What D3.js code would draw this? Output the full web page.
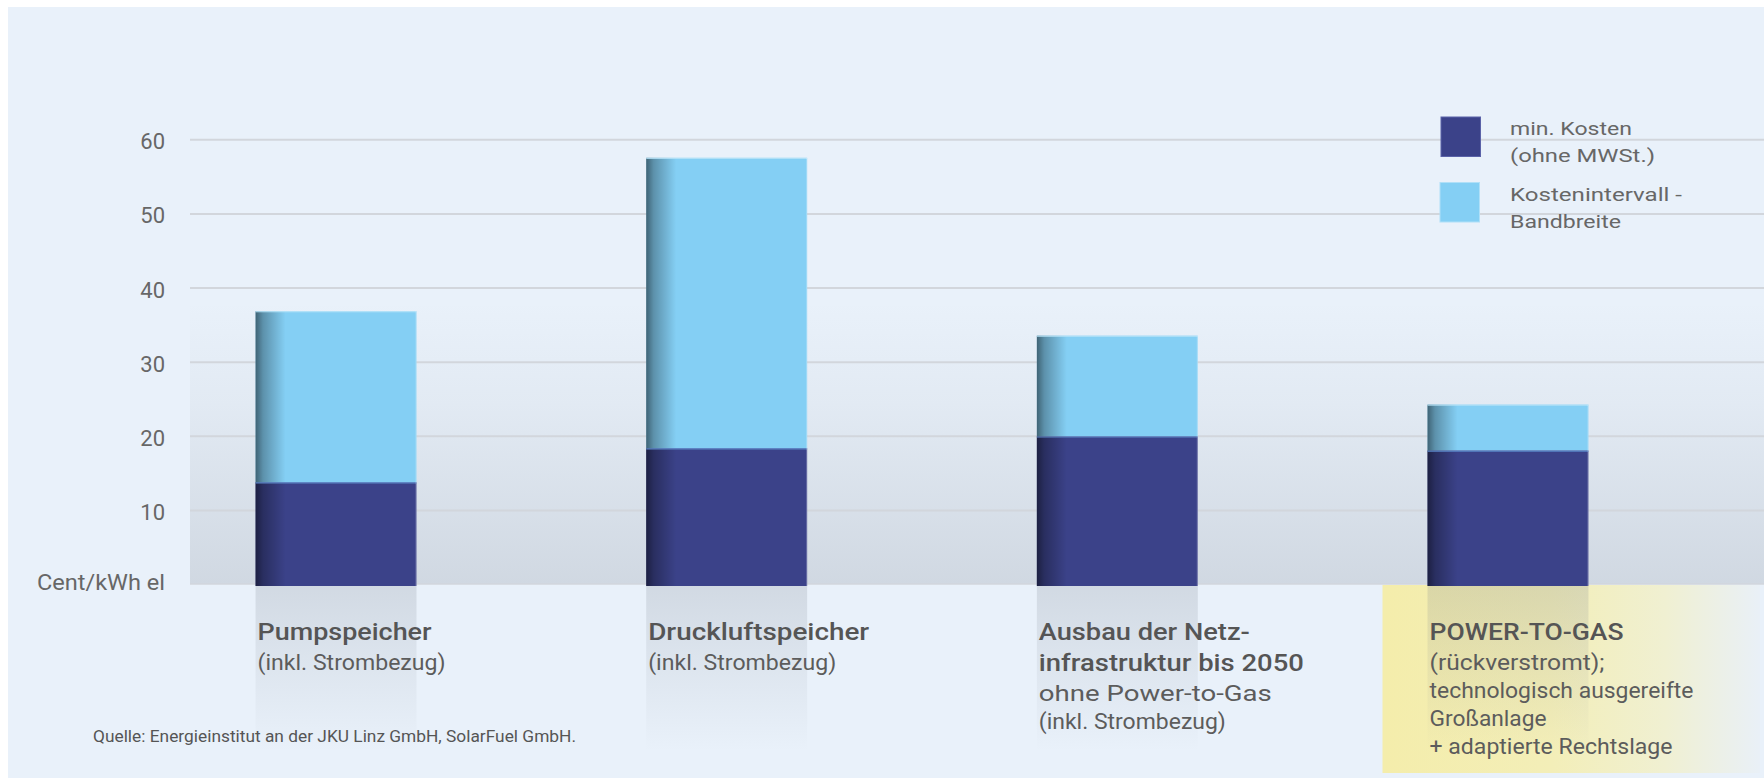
<!DOCTYPE html>
<html>
<head>
<meta charset="utf-8">
<script src="https://cdn.jsdelivr.net/npm/d3@7"></script>
<style>
  html, body { margin: 0; padding: 0; background: #ffffff; }
  svg { display: block; }
  text { font-family: Roboto, "Open Sans", sans-serif; }
</style>
</head>
<body>
<div id="chart"></div>
<script>
// ---------- data ----------
const categories = ["Pumpspeicher", "Druckluftspeicher", "Ausbau der Netzinfrastruktur bis 2050", "POWER-TO-GAS"];
const minCost = [13.7, 18.3, 19.9, 18.0];   // min. Kosten (ohne MWSt.)
const maxCost = [36.8, 57.5, 33.5, 24.2];   // upper end of Kostenintervall
const yTicks = [10, 20, 30, 40, 50, 60];
const yUnit = "Cent/kWh el";
const labelBold = [["Pumpspeicher"], ["Druckluftspeicher"], ["Ausbau der Netz-", "infrastruktur bis 2050"], ["POWER-TO-GAS"]];
const labelRegular = [["(inkl. Strombezug)"], ["(inkl. Strombezug)"], ["ohne Power-to-Gas", "(inkl. Strombezug)"], ["(rückverstromt);", "technologisch ausgereifte", "Großanlage", "+ adaptierte Rechtslage"]];
const legendItems = [["min. Kosten", "(ohne MWSt.)"], ["Kostenintervall -", "Bandbreite"]];
const sourceText = "Quelle: Energieinstitut an der JKU Linz GmbH, SolarFuel GmbH.";

// measured text widths (px) to mimic the DIN face
const boldWidths = [[174], [221], [211, 265], [194]];
const regWidths = [[188], [188], [233, 187], [175, 264, 117, 243]];
const legendWidths = [[122, 145], [172, 111]];

// ---------- layout ----------
const W = 1764, H = 781;
const plotLeft = 190, plotRight = 1764;
const colDark = "#3b4289", colLight = "#84cff4";
const textCol = "#5c5c5c";

const svg = d3.select("#chart").append("svg").attr("width", W).attr("height", H);
const defs = svg.append("defs");

const x = d3.scaleBand().domain(categories).range([140.7, 1703.3]).paddingInner(0.588).paddingOuter(0.294);
const y = d3.scaleLinear().domain([0, 60]).range([584, 139.3]);

function linGrad(id, x1, y1, x2, y2, stops) {
  const g = defs.append("linearGradient").attr("id", id)
    .attr("x1", x1).attr("y1", y1).attr("x2", x2).attr("y2", y2);
  stops.forEach(s => g.append("stop").attr("offset", s[0]).attr("stop-color", s[1]).attr("stop-opacity", s[2]));
}
linGrad("plotShade", 0, 0, 0, 1, [[0, "#78808c", 0], [0.35, "#78808c", 0.06], [1, "#78808c", 0.22]]);
linGrad("reflect", 0, 0, 0, 1, [[0, "#78808c", 0.21], [0.55, "#78808c", 0.09], [1, "#78808c", 0]]);
linGrad("edge", 0, 0, 1, 0, [[0, "#000", 0.52], [0.25, "#000", 0.3], [1, "#000", 0]]);
linGrad("yellow", 0, 0, 1, 0, [[0, "#f4edab", 1], [0.45, "#f3eeb8", 1], [0.75, "#f0f0d2", 1], [1, "#e9f0f7", 1]]);

// panel
svg.append("rect").attr("x", 8).attr("y", 7).attr("width", W - 8).attr("height", H - 10).attr("fill", "#e9f1fa");

// plot area shading
svg.append("rect").attr("x", plotLeft).attr("y", y(38)).attr("width", plotRight - plotLeft)
  .attr("height", y(0) - y(38)).attr("fill", "url(#plotShade)");

// yellow highlight box behind the POWER-TO-GAS label
const bx = x(categories[3]);
svg.append("rect").attr("x", bx - 45).attr("y", y(0) + 1).attr("width", W - 4 - (bx - 45)).attr("height", 188)
  .attr("fill", "url(#yellow)");

// reflections below bars
svg.append("g").selectAll("rect").data(categories).join("rect")
  .attr("x", d => x(d)).attr("y", y(0) + 2).attr("width", x.bandwidth()).attr("height", 165)
  .attr("fill", "url(#reflect)");

// grid + y axis
const axis = d3.axisLeft(y).tickValues(yTicks).tickSize(-(plotRight - plotLeft)).tickPadding(25);
const gAxis = svg.append("g").attr("transform", `translate(${plotLeft},0)`).call(axis);
gAxis.select(".domain").remove();
gAxis.selectAll(".tick line").attr("stroke", "#d2d6dc").attr("stroke-width", 2);
gAxis.selectAll(".tick text").attr("fill", "#676767").attr("font-size", 22).attr("dy", "0.43em")
  .attr("font-family", "Roboto, sans-serif");
svg.append("line").attr("x1", plotLeft).attr("x2", plotRight).attr("y1", y(0)).attr("y2", y(0))
  .attr("stroke", "#d2d6dc").attr("stroke-width", 1.5);

svg.append("text").attr("x", plotLeft - 25).attr("y", y(0) + 6).attr("text-anchor", "end")
  .attr("font-size", 21.5).attr("fill", "#676767").attr("textLength", 128).attr("lengthAdjust", "spacingAndGlyphs")
  .text(yUnit);

// bars
const gBars = svg.append("g");
categories.forEach((c, i) => {
  const bx0 = x(c), bw = x.bandwidth();
  gBars.append("rect").attr("x", bx0).attr("y", y(maxCost[i])).attr("width", bw)
    .attr("height", y(minCost[i]) - y(maxCost[i])).attr("fill", colLight);
  gBars.append("rect").attr("x", bx0).attr("y", y(minCost[i])).attr("width", bw)
    .attr("height", y(0) + 2 - y(minCost[i])).attr("fill", colDark);
  gBars.append("rect").attr("x", bx0).attr("y", y(maxCost[i])).attr("width", 30)
    .attr("height", y(0) + 2 - y(maxCost[i])).attr("fill", "url(#edge)");
  gBars.append("line").attr("x1", bx0).attr("x2", bx0 + bw).attr("y1", y(maxCost[i]) + 0.5).attr("y2", y(maxCost[i]) + 0.5)
    .attr("stroke", "#b8e4f8").attr("stroke-width", 1);
  gBars.append("line").attr("x1", bx0).attr("x2", bx0 + bw).attr("y1", y(minCost[i]) + 0.5).attr("y2", y(minCost[i]) + 0.5)
    .attr("stroke", "#5a86c8").attr("stroke-width", 1.2);
  gBars.append("line").attr("x1", bx0 + bw - 0.5).attr("x2", bx0 + bw - 0.5).attr("y1", y(maxCost[i])).attr("y2", y(0) + 2)
    .attr("stroke", "#ffffff").attr("stroke-opacity", 0.25).attr("stroke-width", 1);
});

// category labels
const gLab = svg.append("g");
categories.forEach((c, i) => {
  const lx = x(c) + 2;
  let by = 640;
  labelBold[i].forEach((t, j) => {
    if (j > 0) by += 31;
    gLab.append("text").attr("x", lx).attr("y", by).attr("font-size", 24).attr("font-weight", 500)
      .attr("fill", "#555555").attr("textLength", boldWidths[i][j]).attr("lengthAdjust", "spacingAndGlyphs").text(t);
  });
  labelRegular[i].forEach((t, j) => {
    by += (j === 0 ? 30 : 28);
    gLab.append("text").attr("x", lx).attr("y", by).attr("font-size", 21.5).attr("font-weight", 400)
      .attr("fill", textCol).attr("textLength", regWidths[i][j]).attr("lengthAdjust", "spacingAndGlyphs").text(t);
  });
});

// legend
const gLeg = svg.append("g");
const legCols = [colDark, colLight];
legendItems.forEach((lines, i) => {
  const ly = 117 + i * 65.5;
  gLeg.append("rect").attr("x", 1441 - i).attr("y", ly).attr("width", 39.5).attr("height", 39.5)
    .attr("fill", legCols[i]).attr("stroke", i === 0 ? "#5a62a8" : "#b0e0f8").attr("stroke-width", 1);
  lines.forEach((t, j) => {
    gLeg.append("text").attr("x", 1510).attr("y", ly + 18 + j * 27).attr("font-size", 18.8)
      .attr("fill", "#676767").attr("textLength", legendWidths[i][j]).attr("lengthAdjust", "spacingAndGlyphs").text(t);
  });
});

// source
svg.append("text").attr("x", 93).attr("y", 742).attr("font-size", 17).attr("fill", "#555")
  .attr("textLength", 483).attr("lengthAdjust", "spacingAndGlyphs").text(sourceText);
</script>
</body>
</html>
